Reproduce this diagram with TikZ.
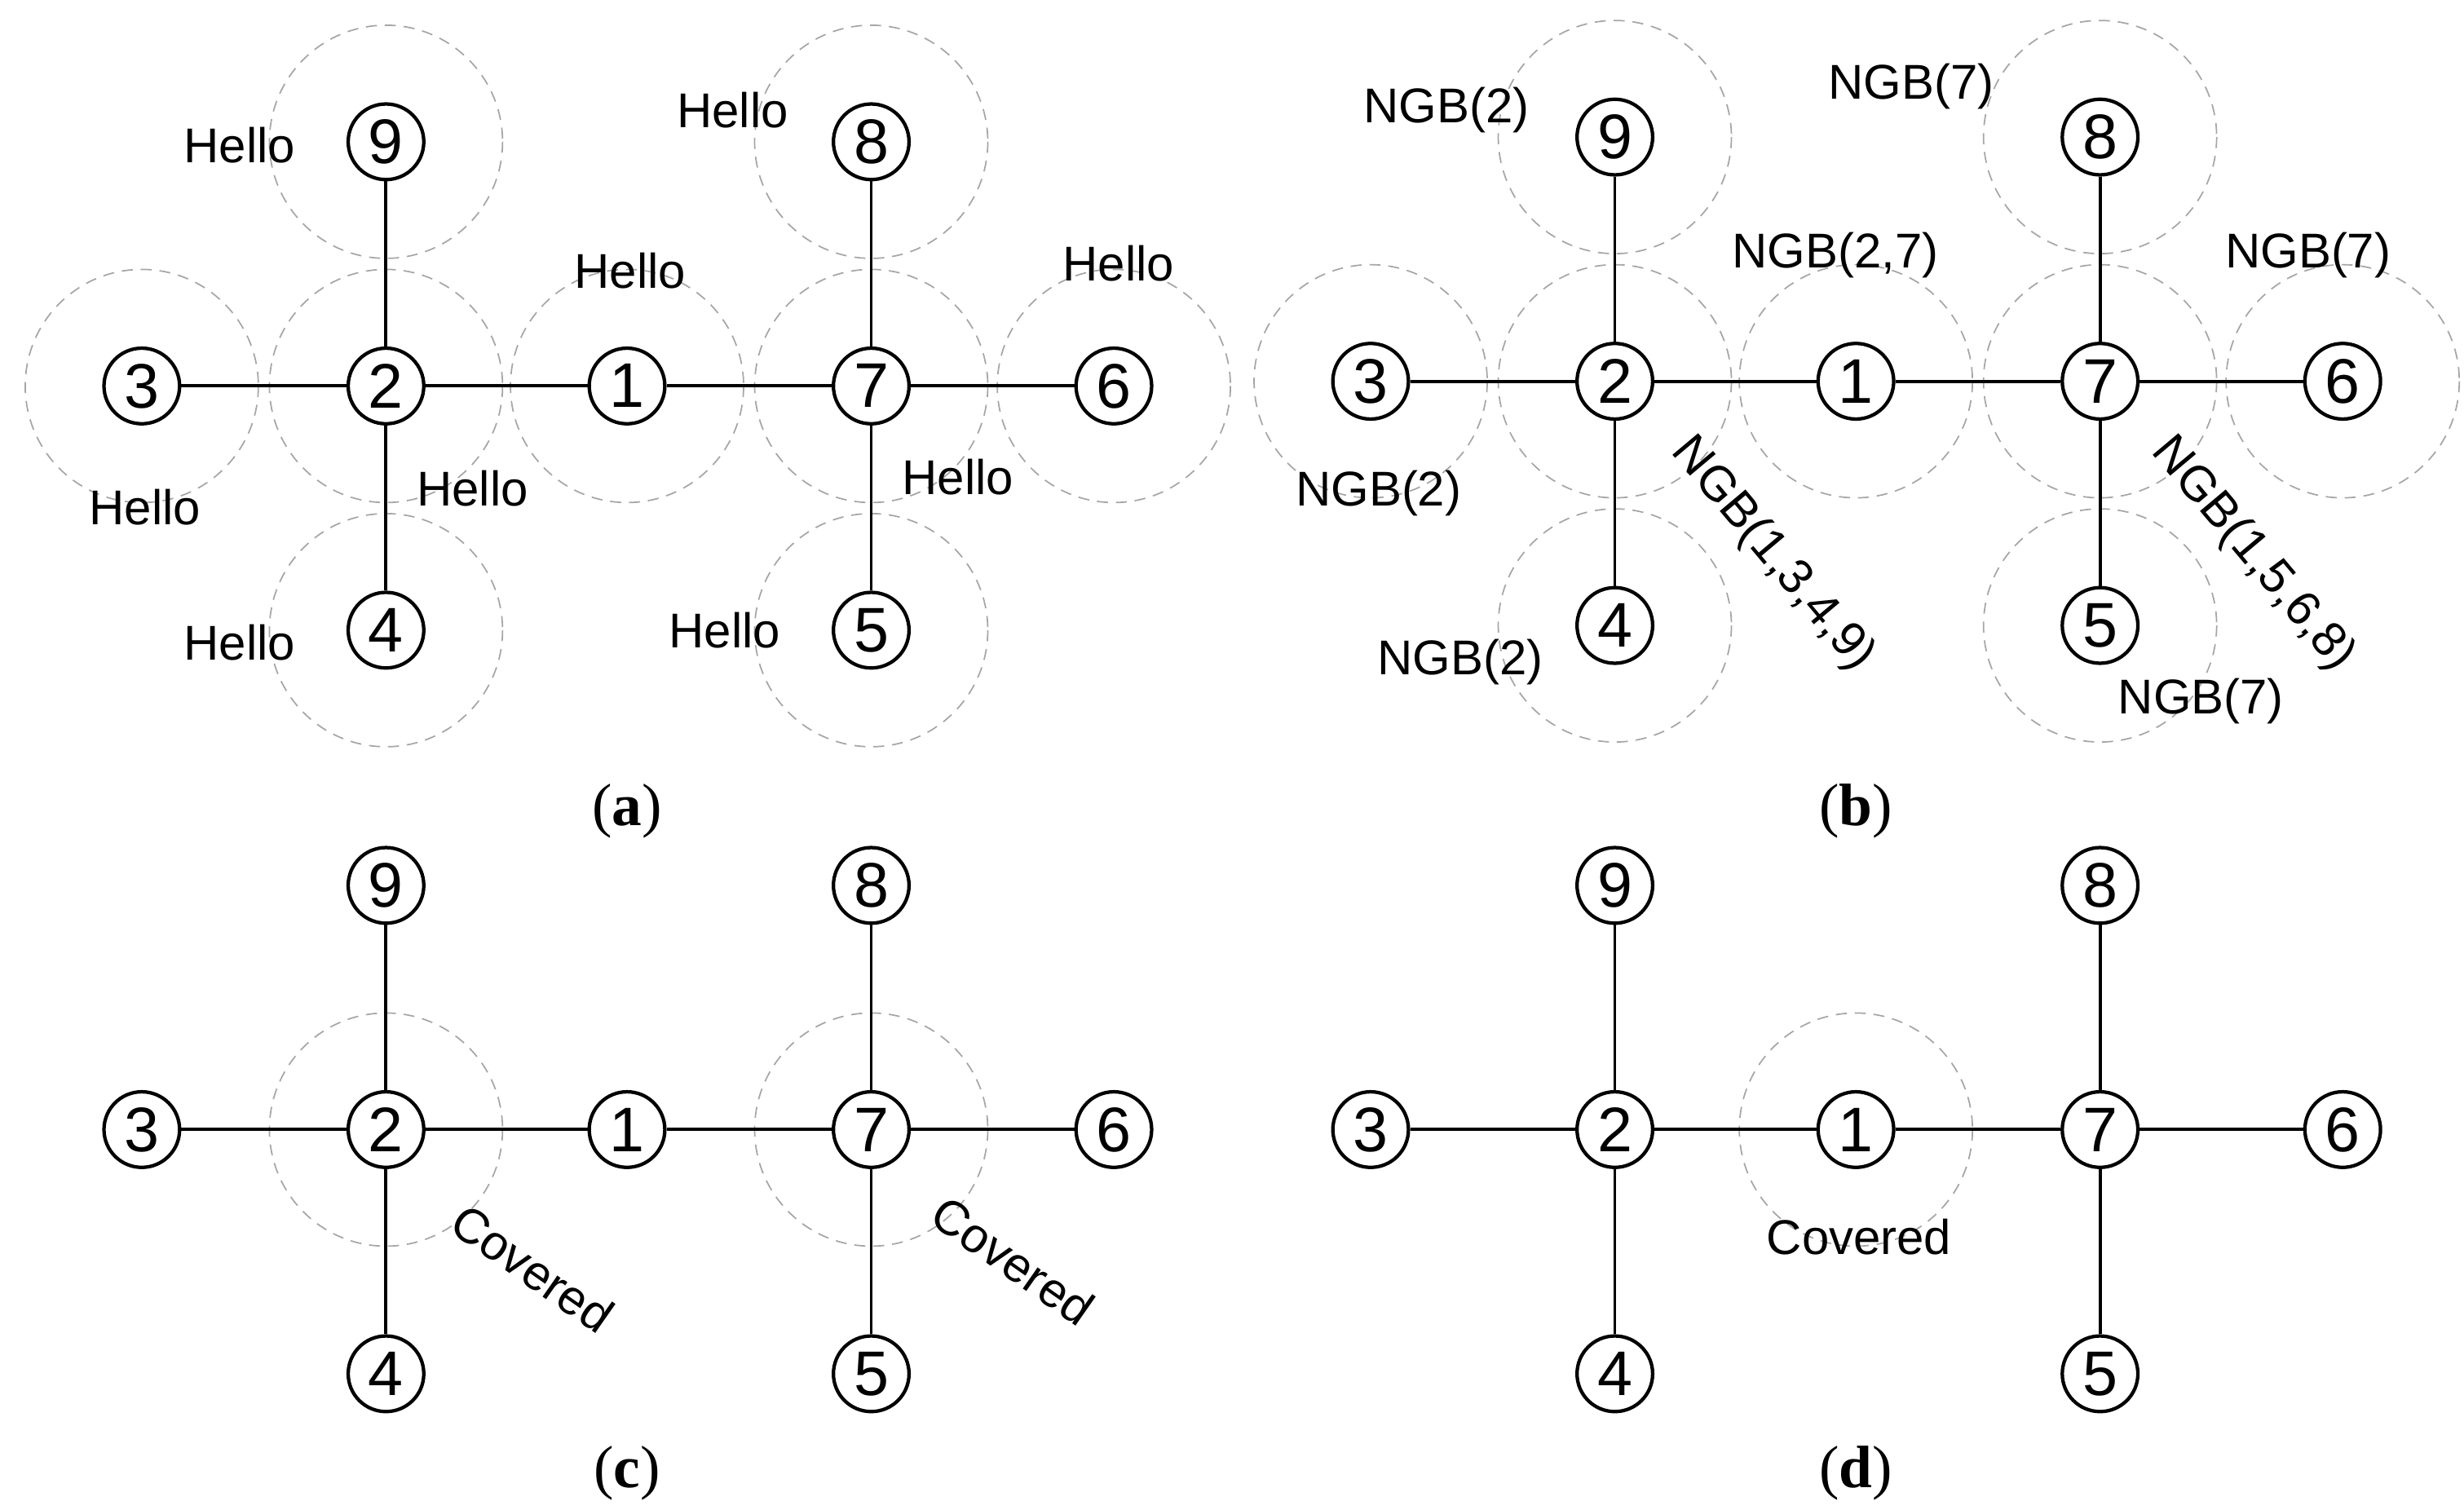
\documentclass[tikz,border=0pt]{standalone}
\usepackage{fontspec}
\setmainfont{Liberation Serif}
\newfontfamily\arialf{Liberation Sans}
\begin{document}
\begin{tikzpicture}[x=1pt,y=-1pt,
  nd/.style={circle,draw,line width=2.2pt,minimum size=48pt,inner sep=0pt,font=\arialf\fontsize{40}{40}\selectfont},
  rng/.style={draw=gray!70,dashed,line width=0.9pt,dash pattern=on 7pt off 5pt},
  ed/.style={line width=2pt},
  lb/.style={font=\arialf\fontsize{31}{31}\selectfont,inner sep=0pt},
  captxt/.style={font=\fontsize{38}{38}\selectfont,inner sep=0pt}]
\useasboundingbox (0,0) rectangle (1564,958);
\foreach \p/\dx/\dy/\rings in {a/0/0/{1,2,3,4,5,6,7,8,9},b/780/-3/{1,2,3,4,5,6,7,8,9},c/0/472/{2,7},d/780/472/{1}}{
  \begin{scope}[shift={(\dx,\dy)},name prefix=\p-]
    \coordinate (c2) at (245,245); \coordinate (c3) at (90,245);
    \coordinate (c1) at (398,245); \coordinate (c7) at (553,245);
    \coordinate (c6) at (707,245); \coordinate (c9) at (245,90);
    \coordinate (c4) at (245,400); \coordinate (c8) at (553,90);
    \coordinate (c5) at (553,400);
    \foreach \r in \rings {\draw[rng] (c\r) circle (74);}
    \foreach \n in {1,...,9} {\node[nd,fill=white] (n\n) at (c\n) {\n};}
    \draw[ed] (n3)--(n2) (n2)--(n1) (n1)--(n7) (n7)--(n6) (n9)--(n2) (n2)--(n4) (n8)--(n7) (n7)--(n5);
  \end{scope}}
% panel a labels
\node[lb] (ha1) at (152,92) {Hello};
\node[lb] (ha2) at (92,322) {Hello};
\node[lb] (ha3) at (152,408) {Hello};
\node[lb] (ha4) at (300,310) {Hello};
\node[lb] (ha5) at (400,172) {Hello};
\node[lb] (ha6) at (465,70) {Hello};
\node[lb] (ha7) at (710,167) {Hello};
\node[lb] (ha8) at (608,303) {Hello};
\node[lb] (ha9) at (460,400) {Hello};
% panel b labels
\node[lb] (nb1) at (918,70) {NGB(2)};
\node[lb] (nb2) at (1213,55) {NGB(7)};
\node[lb] (nb3) at (1165,162) {NGB(2,7)};
\node[lb] (nb4) at (1465,162) {NGB(7)};
\node[lb] (nb5) at (875,313) {NGB(2)};
\node[lb] (nb6) at (927,420) {NGB(2)};
\node[lb] (nb7) at (1397,445) {NGB(7)};
\node[lb,rotate=-50] (nb8) at (1125,352) {NGB(1,3,4,9)};
\node[lb,rotate=-50] (nb9) at (1430,352) {NGB(1,5,6,8)};
% panels c, d
\node[lb,rotate=-35] (cv1) at (338,805) {Covered};
\node[lb,rotate=-35] (cv2) at (643,800) {Covered};
\node[lb] (cv3) at (1180,785) {Covered};
% captions
\node[captxt] (ca) at (398,515) {(\textbf{a})};
\node[captxt] (cb) at (1178,515) {(\textbf{b})};
\node[captxt] (cc) at (398,935) {(\textbf{c})};
\node[captxt] (cd) at (1178,935) {(\textbf{d})};
\end{tikzpicture}
\end{document}
